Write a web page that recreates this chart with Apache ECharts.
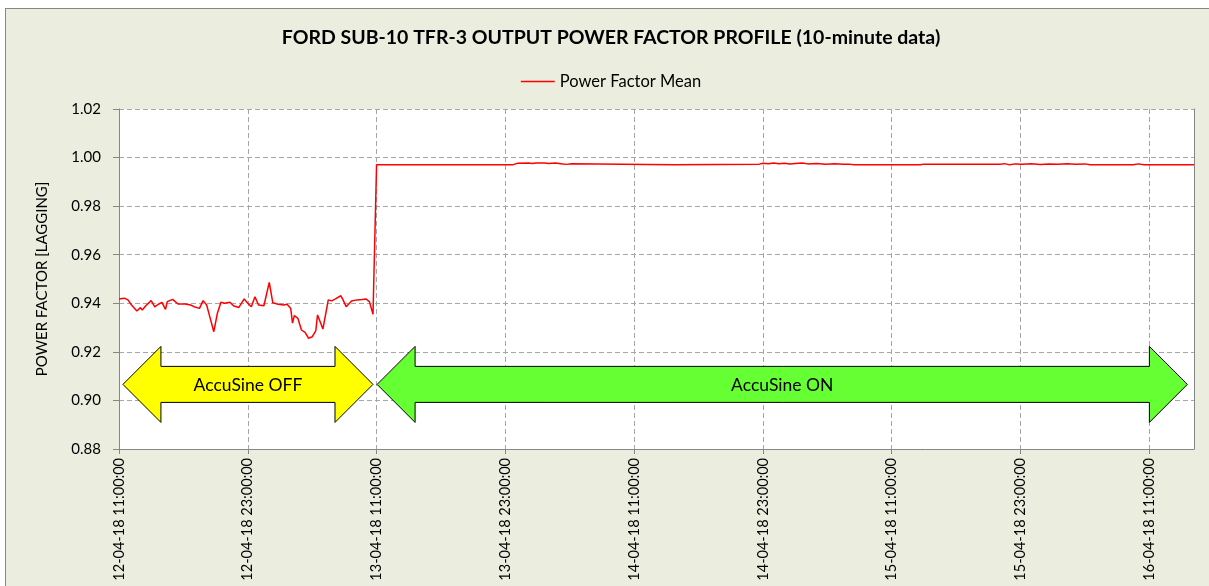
<!DOCTYPE html>
<html>
<head>
<meta charset="utf-8">
<script src="https://cdn.jsdelivr.net/npm/echarts@6/dist/echarts.min.js"></script>
<style>
  html, body { margin: 0; padding: 0; background: #fff; overflow: hidden; }
  #chart {
    position: absolute; left: 5px; top: 8px;
    width: 1210px; height: 585px;
    border: 1px solid #878787;
    background: #EBEEDF;
  }
</style>
</head>
<body>
<div id="chart"></div>
<script>
// 10-minute steps counted from 12-04-18 11:00:00
const startTime = Date.UTC(2018, 3, 12, 11, 0, 0);
const stepMinutes = 10;
const lastStep = 601;

// [step, power factor]
const pfMean = [
  [0, 0.9418], [1, 0.9421], [3, 0.9421], [5, 0.9414], [7, 0.9393], [10, 0.9368],
  [12, 0.9382], [13, 0.9372], [15, 0.9390], [18, 0.9411], [20, 0.9385], [22, 0.9396],
  [24, 0.9404], [25, 0.9396], [26, 0.9375], [27, 0.9407], [30, 0.9416], [33, 0.9397],
  [37, 0.9397], [40, 0.9393], [42, 0.9386], [45, 0.9379], [47, 0.9411], [49, 0.9393],
  [51, 0.9338], [53, 0.9283], [55, 0.9359], [57, 0.9404], [59, 0.9400], [62, 0.9404],
  [64, 0.9390], [67, 0.9383], [70, 0.9418], [72, 0.9400], [74, 0.9386], [76, 0.9427],
  [78, 0.9393], [81, 0.9390], [84, 0.9486], [86, 0.9402], [89, 0.9396], [92, 0.9393],
  [94, 0.9396], [96, 0.9379], [97, 0.9318], [98, 0.9349], [100, 0.9338], [102, 0.9290],
  [104, 0.9280], [106, 0.9256], [108, 0.9262], [110, 0.9286], [111, 0.9352], [114, 0.9294],
  [117, 0.9414], [119, 0.9410], [121, 0.9418], [124, 0.9431], [125, 0.9418], [127, 0.9386],
  [130, 0.9409], [133, 0.9414], [136, 0.9416], [138, 0.9418], [140, 0.9407], [142, 0.9355],
  [144, 0.9970], [220, 0.9970], [221, 0.9976], [223, 0.9977], [229, 0.9978], [231, 0.9976],
  [233, 0.9978], [238, 0.9978], [240, 0.9976], [244, 0.9978], [247, 0.9975], [250, 0.9972],
  [253, 0.9975], [254, 0.9970], [310, 0.9970], [311, 0.9973], [358, 0.9973], [360, 0.9977],
  [363, 0.9975], [366, 0.9978], [369, 0.9975], [372, 0.9977], [375, 0.9974], [378, 0.9976],
  [382, 0.9978], [385, 0.9974], [390, 0.9976], [395, 0.9973], [400, 0.9975], [405, 0.9972],
  [409, 0.9972], [411, 0.9970], [448, 0.9970], [450, 0.9973], [493, 0.9973], [495, 0.9975],
  [498, 0.9970], [501, 0.9974], [505, 0.9972], [510, 0.9975], [515, 0.9971], [520, 0.9974],
  [525, 0.9972], [530, 0.9975], [535, 0.9972], [540, 0.9974], [543, 0.9970], [567, 0.9970],
  [570, 0.9974], [573, 0.9970], [601, 0.9970]
];

// annotation arrows: [from step, to step, power factor at centre]
const arrowSpans = [[2.2, 142.0, 0.9066], [144.3, 597.3, 0.9066]];
const arrowLabels = ['AccuSine OFF', 'AccuSine ON'];
const arrowColors = ['#FFFF00', '#66FF33'];

const yMin = 0.88, yMax = 1.02, yStep = 0.02;
const labelEvery = 72; // one label each 12 hours

function pad(n) { return (n < 10 ? '0' : '') + n; }
function stepLabel(step) {
  const d = new Date(startTime + step * stepMinutes * 60000);
  return pad(d.getUTCDate()) + '-' + pad(d.getUTCMonth() + 1) + '-' + pad(d.getUTCFullYear() % 100) +
    ' ' + pad(d.getUTCHours()) + ':' + pad(d.getUTCMinutes()) + ':00';
}

const chart = echarts.init(document.getElementById('chart'));
const FONT = 'Lato, "Open Sans", sans-serif';

function renderArrow(params, api) {
  const a = api.coord([api.value(0), api.value(2)]);
  const b = api.coord([api.value(1), api.value(2)]);
  const y = a[1];
  const head = 38, headH = 38, bodyH = 18;
  const pts = [
    [a[0], y], [a[0] + head, y - headH], [a[0] + head, y - bodyH],
    [b[0] - head, y - bodyH], [b[0] - head, y - headH], [b[0], y],
    [b[0] - head, y + headH], [b[0] - head, y + bodyH], [a[0] + head, y + bodyH],
    [a[0] + head, y + headH]
  ];
  return {
    type: 'group',
    children: [
      { type: 'polygon', shape: { points: pts },
        style: { fill: arrowColors[params.dataIndex], stroke: '#000', lineWidth: 1 } },
      { type: 'text', x: (a[0] + b[0]) / 2, y: y + 1,
        style: { text: arrowLabels[params.dataIndex], fill: '#000', font: '17.5px ' + FONT,
                 align: 'center', verticalAlign: 'middle' } }
    ]
  };
}

const option = {
  animation: false,
  backgroundColor: 'transparent',
  textStyle: { fontFamily: FONT },
  title: {
    text: 'FORD SUB-10 TFR-3 OUTPUT POWER FACTOR PROFILE (10-minute data)',
    left: 'center',
    top: 14,
    textStyle: { fontSize: 19.5, fontWeight: 'bold', color: '#000', fontFamily: FONT }
  },
  legend: {
    data: ['Power Factor Mean'],
    left: 'center',
    top: 59,
    icon: 'rect',
    itemWidth: 34,
    itemHeight: 1.5,
    itemGap: 6,
    textStyle: { fontSize: 16.5, color: '#000', fontFamily: FONT }
  },
  grid: {
    left: 113, right: 22, top: 100, bottom: 145,
    show: true, backgroundColor: '#fff', borderWidth: 0
  },
  xAxis: {
    type: 'value',
    min: 0,
    max: lastStep,
    interval: labelEvery,
    axisLine: { show: true, onZero: false, lineStyle: { color: '#868686', width: 1 } },
    axisTick: { show: true, length: 5, lineStyle: { color: '#868686' } },
    axisLabel: {
      rotate: 90, margin: 9, fontSize: 14.5, color: '#000', fontFamily: FONT,
      showMaxLabel: false,
      formatter: v => stepLabel(v)
    },
    splitLine: { show: true, lineStyle: { color: '#A6A6A6', type: [5, 3], width: 1 } }
  },
  yAxis: [{
    type: 'value',
    min: yMin,
    max: yMax,
    interval: yStep,
    name: 'POWER FACTOR [LAGGING]',
    nameLocation: 'middle',
    nameGap: 69,
    nameTextStyle: { fontSize: 15, color: '#000', fontFamily: FONT },
    axisLine: { show: true, lineStyle: { color: '#868686', width: 1 } },
    axisTick: { show: true, length: 6, lineStyle: { color: '#868686' } },
    axisLabel: { margin: 18, fontSize: 15, color: '#000', fontFamily: FONT,
                 formatter: v => v.toFixed(2) },
    splitLine: { show: true, lineStyle: { color: '#A6A6A6', type: [5, 3], width: 1 } }
  }, {
    type: 'value',
    position: 'right',
    min: yMin,
    max: yMax,
    interval: yStep,
    axisLine: { show: true, lineStyle: { color: '#868686', width: 1 } },
    axisTick: { show: false },
    axisLabel: { show: false },
    splitLine: { show: false }
  }],
  series: [{
    name: 'Power Factor Mean',
    type: 'line',
    data: pfMean,
    symbol: 'none',
    color: '#FF0000',
    lineStyle: { color: '#FF0000', width: 1.5 },
    z: 3
  }, {
    name: 'arrows',
    type: 'custom',
    data: arrowSpans,
    encode: { x: [0, 1], y: 2 },
    renderItem: renderArrow,
    z: 4
  }]
};

chart.setOption(option);
</script>
</body>
</html>
